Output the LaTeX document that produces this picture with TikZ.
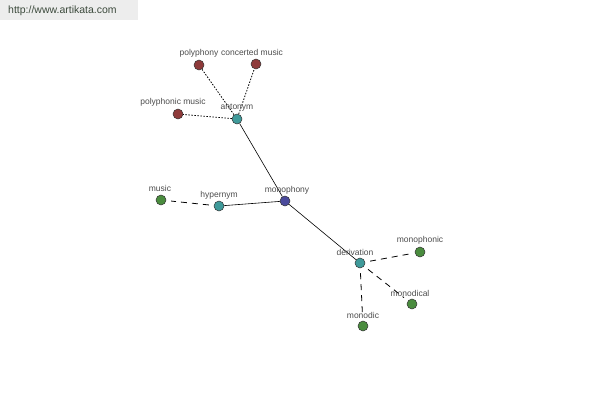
\documentclass[tikz,border=0pt]{standalone}
\usepackage{fontspec}
\setmainfont{Liberation Sans}
\begin{document}
\begin{tikzpicture}[x=1pt,y=-1pt,
  dot/.style={circle,draw=black!80,line width=0.5pt,minimum size=10pt,inner sep=0pt},
  teal/.style={dot,fill=tealc},
  red/.style={dot,fill=redc},
  green/.style={dot,fill=greenc},
  blue/.style={dot,fill=bluec},
  lbl/.style={font=\fontsize{8.5}{9}\selectfont,text=black!70,inner sep=0pt},
  solidl/.style={line width=0.6pt},
  dotl/.style={line width=0.8pt,dash pattern=on 1.5pt off 1.5pt},
  dashl/.style={line width=0.8pt,dash pattern=on 6pt off 5pt,shorten <=5pt,shorten >=5pt}]
\definecolor{tealc}{HTML}{3F9A9A}
\definecolor{redc}{HTML}{8E3A3A}
\definecolor{greenc}{HTML}{4A8C3E}
\definecolor{bluec}{HTML}{4A4A9C}
\definecolor{urlc}{HTML}{3C4A3C}
\useasboundingbox (0,0) rectangle (600,400);
\fill[black!7] (0,0) rectangle (138,20);
\node[font=\fontsize{10.5}{11}\selectfont,text=urlc,anchor=west,inner sep=0pt] (url) at (8,11) {http://www.artikata.com};
% nodes
\node[blue] (mono) at (285,201) {};
\node[teal] (ant) at (237,119) {};
\node[teal] (hyp) at (219,206) {};
\node[teal] (der) at (360,263) {};
\node[red] (poly) at (199,65) {};
\node[red] (conc) at (256,64) {};
\node[red] (polym) at (178,114) {};
\node[green] (music) at (161,200) {};
\node[green] (monoph) at (420,252) {};
\node[green] (monod) at (412,304) {};
\node[green] (monodic) at (363,326) {};
% edges
\draw[solidl] (mono) -- (ant);
\draw[solidl] (mono) -- (hyp);
\draw[solidl] (mono) -- (der);
\draw[dotl] (ant) -- (poly);
\draw[dotl] (ant) -- (conc);
\draw[dotl] (ant) -- (polym);
\draw[dashl] (hyp) -- (music);
\draw[dashl] (der) -- (monoph);
\draw[dashl] (der) -- (monod);
\draw[dashl] (der) -- (monodic);
% labels
\node[lbl] (l1) at (287,190) {monophony};
\node[lbl] (l2) at (237,108) {antonym};
\node[lbl] (l3) at (219,195) {hypernym};
\node[lbl] (l4) at (355,252) {derivation};
\node[lbl] (l5) at (199,53) {polyphony};
\node[lbl] (l6) at (252,52) {concerted music};
\node[lbl] (l7) at (173,102) {polyphonic music};
\node[lbl] (l8) at (160,188) {music};
\node[lbl] (l9) at (420,240) {monophonic};
\node[lbl] (l10) at (410,293) {monodical};
\node[lbl] (l11) at (363,315) {monodic};
\end{tikzpicture}
\end{document}
